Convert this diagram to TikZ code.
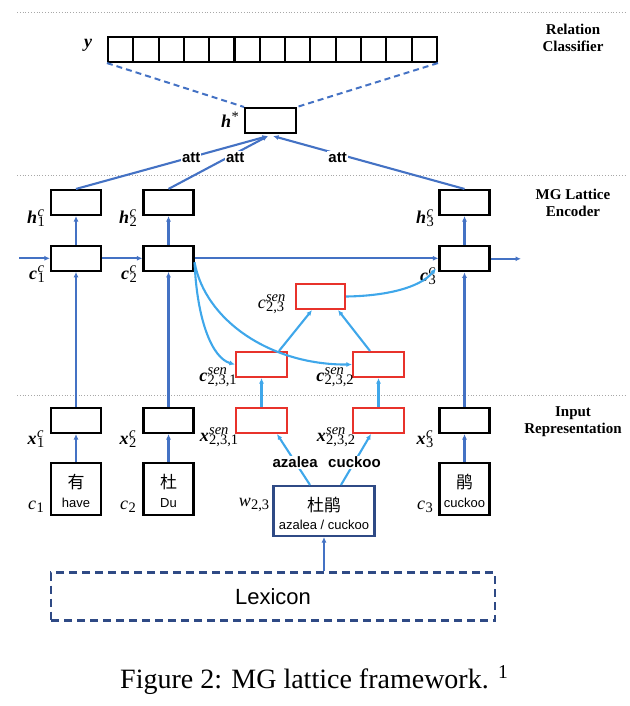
\documentclass[tikz,border=0pt]{standalone}
\usepackage{fontspec}
\setmainfont{Liberation Serif}
\newfontfamily\arial{Liberation Sans}
\newfontfamily\cjk{Noto Sans CJK SC}
\usetikzlibrary{arrows.meta}
\definecolor{mblue}{HTML}{4472C4}
\definecolor{lblue}{HTML}{3FA7EA}
\definecolor{rred}{HTML}{E8322B}
\definecolor{navy}{HTML}{2F4A85}
\definecolor{sepgray}{HTML}{A8A8A8}
\newcommand{\ml}[3]{#1\kern0.3pt{\fontsize{14.5}{14}\selectfont\rlap{\raisebox{7pt}{\itshape #2}}\raisebox{-3.5pt}{#3}}}
\newcommand{\mls}[2]{#1\kern0.3pt{\fontsize{14.5}{14}\selectfont\raisebox{-3.5pt}{#2}}}
\newcommand{\bfi}[1]{{\bfseries\itshape #1}}
\newcommand{\rmi}[1]{{\itshape #1}}
\tikzset{
 box/.style={draw=black, line width=2.1pt, minimum width=50pt, minimum height=25pt, inner sep=0pt},
 rbox/.style={box, draw=rred},
 cell/.style={draw=black, line width=2.1pt, minimum width=25.3pt, minimum height=25pt, inner sep=0pt},
 arr/.style={draw=mblue, line width=2.1pt, -{Latex[length=5.5pt,width=5pt]}},
 larr/.style={draw=lblue, line width=2.1pt, -{Latex[length=5.5pt,width=5pt]}},
 lab/.style={font=\fontsize{18}{20}\selectfont, inner sep=0pt},
 hdr/.style={font=\fontsize{15}{17}\selectfont\bfseries, align=center},
 attlab/.style={font=\arial\fontsize{15}{17}\selectfont\bfseries, fill=white, inner sep=1pt},
 sepline/.style={draw=sepgray, line width=0.8pt, dotted},
 cjkt/.style={font=\cjk\fontsize{17}{17}\selectfont, inner sep=0pt},
 sanst/.style={font=\arial\fontsize{13}{15}\selectfont, inner sep=0pt},
 dashln/.style={draw=mblue, line width=2pt, dash pattern=on 6pt off 4pt},
}
\begin{document}
\begin{tikzpicture}[x=1pt,y=-1pt]
\useasboundingbox (0,0) rectangle (629,706);
% separators
\draw[sepline] (17,12) -- (625,12);
\draw[sepline] (17,175) -- (625,175);
\draw[sepline] (17,395) -- (625,395);
% headers
\node[hdr] (hd1) at (573,38) {Relation\\Classifier};
\node[hdr] (hd2) at (573,203) {MG Lattice\\Encoder};
\node[hdr] (hd3) at (573,422) {Input\\Representation};
% classifier vector
\foreach \i in {1,...,13} \node[cell] (v\i) at ({108+25.3*(\i-0.5)},49.5) {};
\node[lab] (ylab) at (88,45) {\bfi{y}};
\node[box, minimum width=51pt, minimum height=25pt] (hs) at (270.5,120.5) {};
\node[lab] (hslab) at (230,120) {\bfi{h}\kern0.5pt\raisebox{6pt}{\fontsize{14.5}{14}\selectfont *}};
\draw[dashln] (v1.south west) -- (hs.north west);
\draw[dashln] (v13.south east) -- (hs.north east);
% encoder boxes
\node[box] (h1) at (76,202.5) {};
\node[box] (h2) at (168.5,202.5) {};
\node[box] (h3) at (464.5,202.5) {};
\node[box] (cc1) at (76,258.3) {};
\node[box] (cc2) at (168.5,258.3) {};
\node[box] (cc3) at (464.5,258.8) {};
\node[rbox, minimum width=49pt] (s23) at (320.5,296.5) {};
\node[rbox, minimum width=51pt] (s231) at (261.5,364.5) {};
\node[rbox, minimum width=51pt] (s232) at (378.5,364.5) {};
% input boxes
\node[box] (xc1) at (76,420.5) {};
\node[box] (xc2) at (168.5,420.5) {};
\node[box] (xc3) at (464.5,420.5) {};
\node[rbox, minimum width=51pt] (xs231) at (261.5,420.5) {};
\node[rbox, minimum width=51pt] (xs232) at (378.5,420.5) {};
\node[box, minimum height=52pt] (ch1) at (76,489) {};
\node[box, minimum height=52pt] (ch2) at (168.5,489) {};
\node[box, minimum height=52pt] (ch3) at (464.5,489) {};
\node[cjkt] (t1a) at ([yshift=7pt]ch1.center) {有};
\node[sanst] (t1b) at ([yshift=-14pt]ch1.center) {have};
\node[cjkt] (t2a) at ([yshift=7pt]ch2.center) {杜};
\node[sanst] (t2b) at ([yshift=-14pt]ch2.center) {Du};
\node[cjkt] (t3a) at ([yshift=7pt]ch3.center) {鹃};
\node[sanst] (t3b) at ([yshift=-14pt]ch3.center) {cuckoo};
\node[draw=navy, line width=2.1pt, minimum width=101pt, minimum height=50pt, inner sep=0pt] (w) at (324,511) {};
\node[cjkt] (twa) at ([yshift=6pt]w.center) {杜鹃};
\node[sanst] (twb) at ([yshift=-14pt]w.center) {azalea / cuckoo};
\node[draw=navy, line width=2.4pt, dash pattern=on 8pt off 5pt, minimum width=444pt, minimum height=48pt, inner sep=0pt, font=\arial\fontsize{22}{24}\selectfont] (lex) at (273,596.5) {Lexicon};
% labels
\node[lab] (lh1) at (36,218) {\ml{\bfi{h}}{c}{1}};
\node[lab] (lh2) at (128,218) {\ml{\bfi{h}}{c}{2}};
\node[lab] (lh3) at (425,218) {\ml{\bfi{h}}{c}{3}};
\node[lab] (lc1) at (37,274) {\ml{\bfi{c}}{c}{1}};
\node[lab] (lc2) at (129,274) {\ml{\bfi{c}}{c}{2}};
\node[lab] (lc3) at (428,276) {\ml{\bfi{c}}{c}{3}};
\node[lab] (ls23) at (271,304) {\ml{\rmi{c}}{sen}{2,3}};
\node[lab] (ls231) at (218,377) {\ml{\bfi{c}}{sen}{2,3,1}};
\node[lab] (ls232) at (335,377) {\ml{\bfi{c}}{sen}{2,3,2}};
\node[lab] (lx1) at (36,439) {\ml{\bfi{x}}{c}{1}};
\node[lab] (lx2) at (128,439) {\ml{\bfi{x}}{c}{2}};
\node[lab] (lx3) at (425,439) {\ml{\bfi{x}}{c}{3}};
\node[lab] (lxs1) at (219,437) {\ml{\bfi{x}}{sen}{2,3,1}};
\node[lab] (lxs2) at (336,437) {\ml{\bfi{x}}{sen}{2,3,2}};
\node[lab] (lch1) at (36,507) {\mls{\rmi{c}}{1}};
\node[lab] (lch2) at (128,507) {\mls{\rmi{c}}{2}};
\node[lab] (lch3) at (425,507) {\mls{\rmi{c}}{3}};
\node[lab] (lw) at (254,505) {\mls{\rmi{w}}{2,3}};
% horizontal chain
\coordinate (lin) at (19,258.3);
\coordinate (lout) at (521,258.8);
\draw[arr] (lin) -- (cc1.west);
\draw[arr] (cc1.east) -- (cc2.west);
\draw[arr] (cc2.east) -- (cc3.west |- cc2.east);
\draw[arr] (cc3.east) -- (lout);
% vertical
\foreach \i in {1,2,3} {
 \draw[arr] (xc\i.north) -- (cc\i.south);
 \draw[arr] (cc\i.north) -- (h\i.south);
 \draw[arr] (ch\i.north) -- (xc\i.south);
}
% attention
\draw[arr] (h1.north) -- node[attlab, pos=0.6] {att} ([xshift=-2.5pt,yshift=-2pt]hs.south);
\draw[arr] (h2.north) -- node[attlab, pos=0.6, xshift=7pt] {att} ([xshift=-2.5pt,yshift=-2pt]hs.south);
\draw[arr] (h3.north) -- node[attlab, pos=0.6, xshift=-12pt] {att} ([xshift=2.5pt,yshift=-2pt]hs.south);
% lattice
\draw[larr] ([yshift=-4pt]cc2.east) .. controls (197,320) and (212,358) .. (s231.west);
\draw[larr] ([yshift=-4pt]cc2.east) .. controls (205,320) and (270,365) .. (s232.west);
\draw[larr] ([xshift=17.5pt]s231.north) -- ([xshift=-8.5pt]s23.south);
\draw[larr] ([xshift=-8.5pt]s232.north) -- ([xshift=17.5pt]s23.south);
\draw[larr] (s23.east) .. controls (385,296) and (420,288) .. ([xshift=-2.5pt,yshift=4pt]cc3.south west);
\draw[larr] (xs231.north) -- (s231.south);
\draw[larr] (xs232.north) -- (s232.south);
\draw[larr] ([xshift=-14pt]w.north) -- node[attlab, pos=0.45] {azalea} ([xshift=15.5pt]xs231.south);
\draw[larr] ([xshift=17pt]w.north) -- node[attlab, pos=0.45] {cuckoo} ([xshift=-7.5pt]xs232.south);
\draw[arr] (w.south |- lex.north) -- (w.south);
% caption
\node[anchor=base west, inner sep=0pt, font=\fontsize{28}{30}\selectfont] (cap) at (120,688) {Figure 2: MG lattice framework. \textsuperscript{1}};
\end{tikzpicture}
\end{document}
